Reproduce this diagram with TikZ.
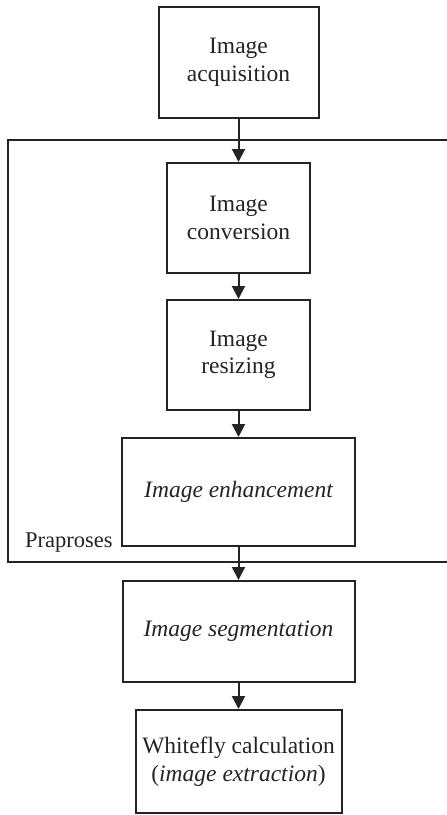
\documentclass[tikz,border=0pt]{standalone}
\usepackage{fontspec}
\setmainfont{Liberation Serif}
\usetikzlibrary{arrows.meta}
\definecolor{ink}{rgb}{0.14,0.14,0.14}
\begin{document}
\begin{tikzpicture}[x=1pt,y=-1pt,
  stepbox/.style={draw=ink, line width=2pt, text=ink, align=center, inner sep=0pt,
    font=\fontsize{23.5}{27.5}\selectfont},
  arr/.style={draw=ink, line width=2pt, -{Triangle[width=13pt,length=13pt]}},
  frame/.style={draw=ink, line width=1.6pt}]
\useasboundingbox (0,0) rectangle (447,815);
\begin{scope}
\clip (0,0) rectangle (447,815);
\draw[frame] (8,140) rectangle (470,562);
\end{scope}
\node[stepbox, minimum width=160pt, minimum height=111pt] (b1) at (238.5,62.5) {Image\\acquisition};
\node[stepbox, minimum width=143pt, minimum height=110pt] (b2) at (238.5,218) {Image\\conversion};
\node[stepbox, minimum width=143pt, minimum height=110pt] (b3) at (238.5,355) {Image\\resizing};
\node[stepbox, minimum width=233pt, minimum height=108pt] (b4) at (238.5,492) {\itshape Image enhancement};
\node[stepbox, minimum width=232pt, minimum height=101pt] (b5) at (238.5,631.5) {\itshape Image segmentation};
\node[stepbox, minimum width=206pt, minimum height=103pt] (b6) at (238.5,761.5) {Whitefly calculation\\(\textit{image extraction})};
\node[text=ink, anchor=base west, inner sep=0pt, font=\fontsize{22.5}{27}\selectfont] (lbl) at (25,547) {Praproses};
\draw[arr] (b1) -- (b2);
\draw[arr] (b2) -- (b3);
\draw[arr] (b3) -- (b4);
\draw[arr] (b4) -- (b5);
\draw[arr] (b5) -- (b6);
\end{tikzpicture}
\end{document}
